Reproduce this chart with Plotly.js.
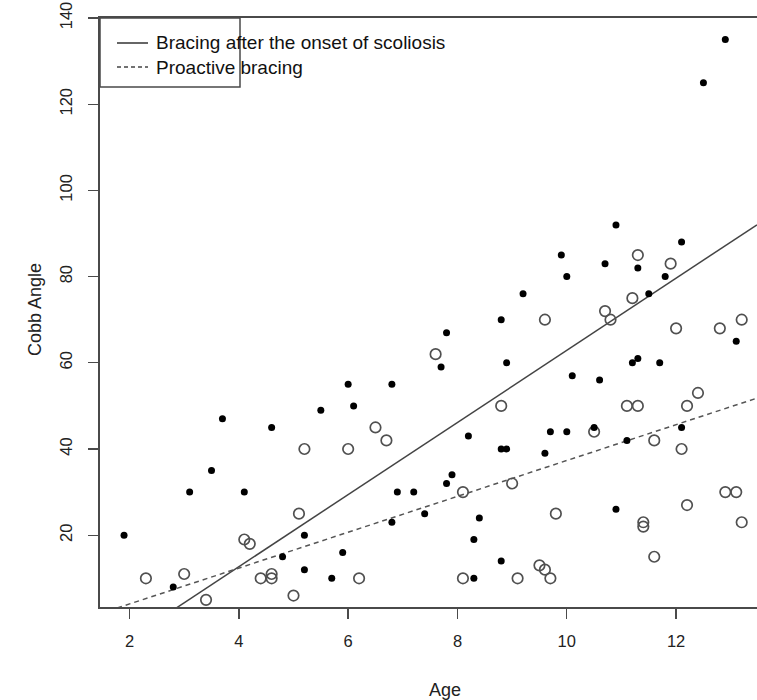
<!DOCTYPE html>
<html>
<head>
<meta charset="utf-8">
<script src="https://cdn.plot.ly/plotly-3.0.1.min.js"></script>
<style>html,body{margin:0;padding:0;background:#fff;}#chart{width:757px;height:700px;}</style>
</head>
<body>
<div id="chart"></div>
<script>
// ---- data ----
const seriesNames = ["Bracing after the onset of scoliosis", "Proactive bracing"];

const onsetAge = [1.9,2.8,3.1,3.5,3.7,4.1,4.6,4.8,5.2,5.2,5.5,5.7,5.9,6.0,6.1,6.8,6.8,6.9,7.2,7.4,7.7,7.8,7.8,7.9,8.2,8.3,8.3,8.4,8.8,8.8,8.8,8.9,8.9,9.2,9.6,9.7,9.9,10.0,10.0,10.1,10.5,10.6,10.7,10.9,10.9,11.1,11.2,11.3,11.3,11.5,11.7,11.8,12.1,12.1,12.5,12.9,13.1];
const onsetCobb = [20,8,30,35,47,30,45,15,20,12,49,10,16,55,50,55,23,30,30,25,59,67,32,34,43,19,10,24,70,40,14,60,40,76,39,44,85,80,44,57,45,56,83,92,26,42,60,82,61,76,60,80,88,45,125,135,65];

const proAge = [2.3,3.0,3.4,4.1,4.2,4.4,4.6,4.6,5.0,5.1,5.2,6.0,6.2,6.5,6.7,7.6,8.1,8.1,8.8,9.0,9.1,9.5,9.6,9.6,9.7,9.8,10.5,10.7,10.8,11.1,11.2,11.3,11.3,11.4,11.4,11.6,11.6,11.9,12.0,12.1,12.2,12.2,12.4,12.8,12.9,13.1,13.2,13.2];
const proCobb = [10,11,5,19,18,10,11,10,6,25,40,40,10,45,42,62,30,10,50,32,10,13,12,70,10,25,44,72,70,50,75,85,50,23,22,42,15,83,68,40,50,27,53,68,30,30,23,70];

// fitted regression lines (intercept, slope)
const fitIntercept = [-20.8, -4.27];
const fitSlope = [8.37, 4.16];

const xTicks = [2,4,6,8,10,12];
const yTicks = [20,40,60,80,100,120,140];
const xRange = [1.46, 13.48];
const yRange = [3.34, 140];

// ---- styles ----
const FONT = "Liberation Sans, Arial, sans-serif";
const AX = "#4a4a4a";

function fitLine(i) {
  const xs = [xRange[0], xRange[1]];
  return { x: xs, y: xs.map(v => fitIntercept[i] + fitSlope[i] * v) };
}
const l0 = fitLine(0), l1 = fitLine(1);

const traces = [
  { x: l0.x, y: l0.y, mode: "lines", line: {color: "#444", width: 1.5}, hoverinfo: "skip" },
  { x: l1.x, y: l1.y, mode: "lines", line: {color: "#555", width: 1.5, dash: "5px,4px"}, hoverinfo: "skip" },
  { x: proAge, y: proCobb, mode: "markers", name: seriesNames[1],
    marker: {symbol: "circle-open", size: 10.5, color: "#505050", line: {width: 1.7}} },
  { x: onsetAge, y: onsetCobb, mode: "markers", name: seriesNames[0],
    marker: {symbol: "circle", size: 7, color: "#000"} }
];

const W = 657, H = 589;
const px = v => (v - 100) / W;
const py = v => (607 - v) / H;

const layout = {
  width: 757, height: 700,
  margin: {l: 100, r: 0, t: 18, b: 93, pad: 0},
  paper_bgcolor: "#fff", plot_bgcolor: "#fff",
  showlegend: false,
  font: {family: FONT, size: 16, color: "#222"},
  xaxis: {
    range: xRange, tickvals: xTicks, ticktext: xTicks.map(String),
    showgrid: false, zeroline: false, showline: true, linecolor: AX, linewidth: 1.6,
    mirror: true, ticks: "outside", ticklen: 10, tickcolor: AX, tickwidth: 1.4,
    ticklabelstandoff: 9, tickfont: {size: 16.5, color: "#222"}
  },
  yaxis: {
    range: yRange, tickvals: yTicks, ticktext: yTicks.map(String),
    showgrid: false, zeroline: false, showline: true, linecolor: AX, linewidth: 1.6,
    ticks: "outside", ticklen: 10, tickcolor: AX, tickwidth: 1.4,
    tickangle: -90, ticklabelstandoff: 10, tickfont: {size: 16.5, color: "#222"}
  },
  shapes: [
    // legend box
    {type: "rect", xref: "paper", yref: "paper", x0: 0, x1: px(240), y0: py(87), y1: 1,
     line: {color: AX, width: 1.5}, fillcolor: "rgba(0,0,0,0)"},
    {type: "line", xref: "paper", yref: "paper", x0: px(117), x1: px(148), y0: py(43), y1: py(43),
     line: {color: "#333", width: 1.5}},
    {type: "line", xref: "paper", yref: "paper", x0: px(117), x1: px(148), y0: py(67), y1: py(67),
     line: {color: "#444", width: 1.5, dash: "4px,3px"}}
  ],
  annotations: [
    {xref: "paper", yref: "paper", x: px(154), y: py(43), xanchor: "left", yanchor: "middle",
     text: seriesNames[0], showarrow: false, font: {size: 19, color: "#111"}},
    {xref: "paper", yref: "paper", x: px(154), y: py(67), xanchor: "left", yanchor: "middle",
     text: seriesNames[1], showarrow: false, font: {size: 19, color: "#111"}},
    {xref: "paper", yref: "paper", x: px(445), y: py(690), xanchor: "center", yanchor: "middle",
     text: "Age", showarrow: false, font: {size: 18, color: "#222"}},
    {xref: "paper", yref: "paper", x: px(35), y: py(310), xanchor: "center", yanchor: "middle",
     text: "Cobb Angle", textangle: -90, showarrow: false, font: {size: 18, color: "#222"}}
  ]
};

Plotly.newPlot("chart", traces, layout, {staticPlot: true, displayModeBar: false});
</script>
</body>
</html>
